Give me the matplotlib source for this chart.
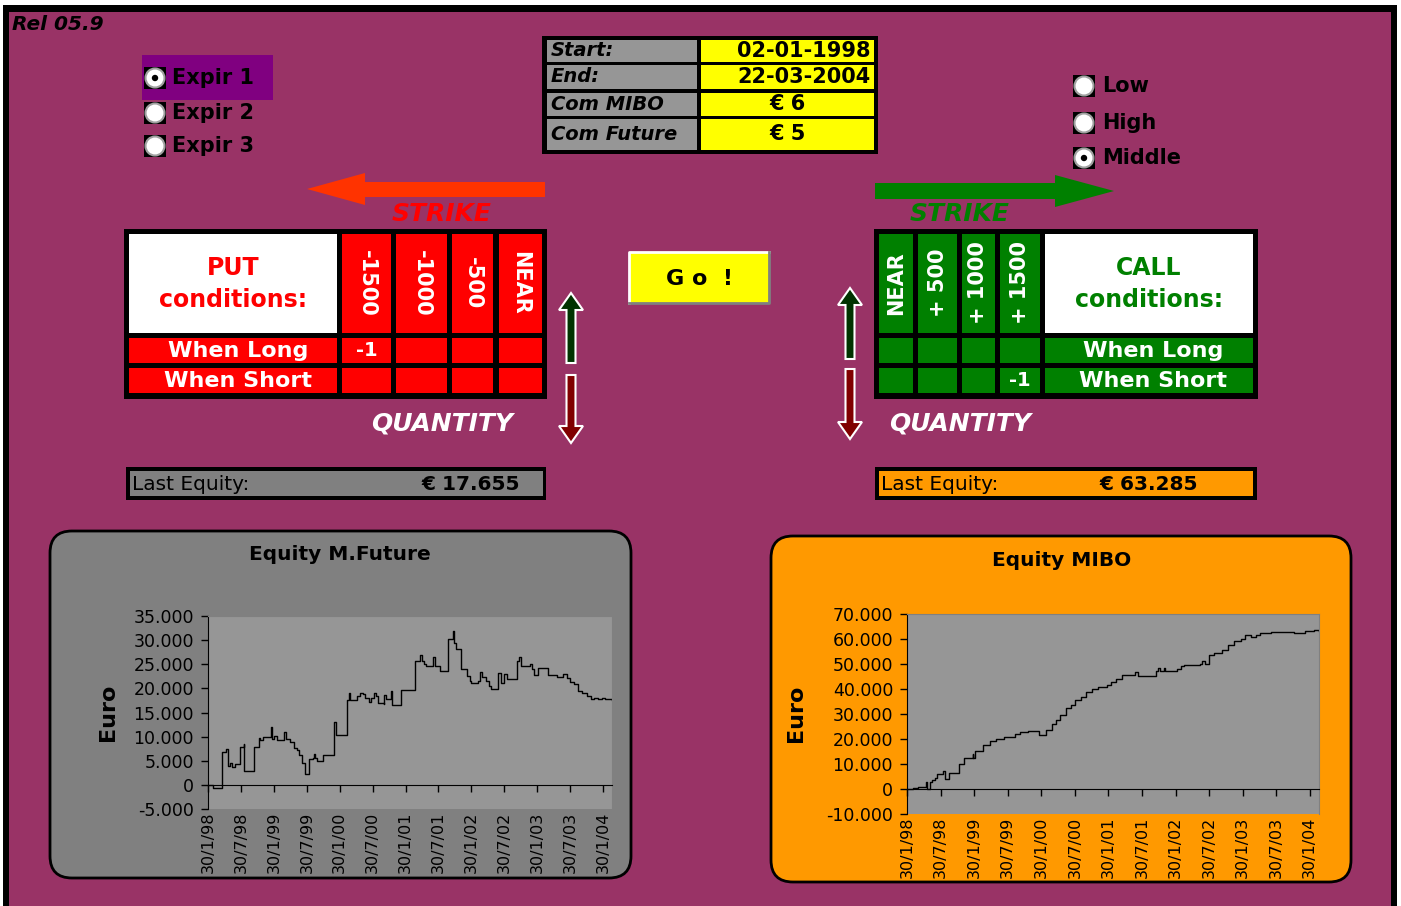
import matplotlib.pyplot as plt
from matplotlib.patches import Rectangle, Polygon, Circle, FancyBboxPatch
from matplotlib.transforms import blended_transform_factory

# equity curves (decimal year, euro)
fut_years = [1998.08, 1998.16, 1998.29, 1998.36, 1998.38, 1998.42, 1998.45, 1998.49, 1998.56, 1998.62,
             1998.63, 1998.78, 1998.85, 1998.87, 1998.92, 1999.03, 1999.06, 1999.08, 1999.13, 1999.23,
             1999.26, 1999.33, 1999.39, 1999.43, 1999.47, 1999.51, 1999.55, 1999.62, 1999.67, 1999.69,
             1999.71, 1999.74, 1999.83, 2000.00, 2000.03, 2000.19, 2000.23, 2000.24, 2000.35, 2000.39,
             2000.43, 2000.47, 2000.52, 2000.56, 2000.60, 2000.64, 2000.67, 2000.75, 2000.76, 2000.79,
             2000.86, 2000.88, 2001.01, 2001.23, 2001.30, 2001.33, 2001.37, 2001.40, 2001.50, 2001.53,
             2001.60, 2001.73, 2001.80, 2001.82, 2001.85, 2001.93, 2002.01, 2002.06, 2002.08, 2002.18,
             2002.21, 2002.24, 2002.30, 2002.35, 2002.38, 2002.48, 2002.53, 2002.58, 2002.63, 2002.77,
             2002.81, 2002.84, 2002.97, 2003.00, 2003.04, 2003.09, 2003.24, 2003.38, 2003.47, 2003.53,
             2003.58, 2003.64, 2003.70, 2003.77, 2003.84, 2003.90, 2003.95, 2004.01, 2004.07, 2004.12,
             2004.22]
fut_equity = [0, -700, 6800, 7500, 4000, 4600, 3700, 4400, 7800, 8500,
              2800, 7800, 9800, 9200, 9900, 11900, 9500, 10200, 9400, 10900,
              9600, 8800, 7700, 7300, 6200, 4500, 2300, 5400, 5500, 6400,
              5500, 5000, 6100, 13000, 10300, 17600, 19000, 17600, 18500, 19000,
              18800, 18100, 17200, 18100, 19000, 18500, 17000, 16700, 18600, 17900,
              19500, 16500, 19700, 25700, 26900, 25700, 25000, 24700, 26400, 24700,
              23600, 30300, 31900, 29400, 28100, 24000, 22600, 21600, 21100, 21600,
              23400, 22300, 21600, 20500, 19800, 23100, 21200, 23000, 21900, 25700,
              26400, 24700, 25000, 24000, 22700, 24300, 22700, 22300, 23000, 22100,
              21400, 20900, 19500, 19000, 18500, 17800, 18100, 17800, 18100, 17700,
              17655]

mibo_years = [1998.08, 1998.17, 1998.25, 1998.35, 1998.36, 1998.38, 1998.42, 1998.46, 1998.50, 1998.52,
              1998.62, 1998.65, 1998.70, 1998.86, 1998.93, 1999.06, 1999.07, 1999.09, 1999.22, 1999.31,
              1999.41, 1999.53, 1999.69, 1999.77, 1999.88, 2000.05, 2000.15, 2000.24, 2000.30, 2000.36,
              2000.45, 2000.53, 2000.59, 2000.67, 2000.75, 2000.84, 2000.92, 2001.06, 2001.12, 2001.20,
              2001.29, 2001.48, 2001.53, 2001.79, 2001.82, 2001.85, 2001.91, 2001.93, 2002.10, 2002.17,
              2002.21, 2002.44, 2002.48, 2002.52, 2002.58, 2002.66, 2002.78, 2002.86, 2002.96, 2003.06,
              2003.11, 2003.20, 2003.28, 2003.34, 2003.51, 2003.84, 2004.01, 2004.15, 2004.22]
mibo_equity = [0, 500, 700, 700, 2700, 0, 2900, 3600, 4500, 5900,
               7200, 3900, 6300, 9900, 12500, 14200, 12300, 15200, 17800, 19200,
               20000, 20900, 22100, 22900, 23300, 21600, 23600, 26200, 27600, 29600,
               32500, 33600, 35600, 36900, 38900, 39900, 40900, 41500, 42900, 44200,
               45500, 46900, 45300, 47100, 48500, 47100, 48500, 47400, 47900, 49300,
               49800, 50200, 51100, 50200, 53800, 54600, 55500, 57500, 59100, 60200,
               61800, 60900, 61500, 62500, 62900, 62600, 63100, 63500, 63285]

date_labels = ['30/1/98', '30/7/98', '30/1/99', '30/7/99', '30/1/00', '30/7/00', '30/1/01',
               '30/7/01', '30/1/02', '30/7/02', '30/1/03', '30/7/03', '30/1/04']
fut_yticks = [-5000, 0, 5000, 10000, 15000, 20000, 25000, 30000, 35000]
mibo_yticks = [-10000, 0, 10000, 20000, 30000, 40000, 50000, 60000, 70000]

settings_labels = ['Start:', 'End:', 'Com MIBO', 'Com Future']
settings_values = ['02-01-1998', '22-03-2004', '€ 6', '€ 5']
expiries = ['Expir 1', 'Expir 2', 'Expir 3']
levels = ['Low', 'High', 'Middle']
put_strikes = ['-1500', '-1000', '-500', 'NEAR']
call_strikes = ['NEAR', '+ 500', '+ 1000', '+ 1500']
put_long = ['-1', '', '', '']
put_short = ['', '', '', '']
call_long = ['', '', '', '']
call_short = ['', '', '', '-1']
last_fut = '€ 17.655'
last_mibo = '€ 63.285'

W, H = 1401, 906
PURPLE = '#993366'

fig = plt.figure(figsize=(W / 100, H / 100), dpi=100, facecolor='white')
ax = fig.add_axes([0, 0, 1, 1])
ax.set_xlim(0, W)
ax.set_ylim(H, 0)
ax.axis('off')


def box(x0, y0, x1, y1, fc, z=1):
    ax.add_patch(Rectangle((x0, y0), x1 - x0, y1 - y0, facecolor=fc, edgecolor='none', zorder=z))


def txt(x, y, s, size, color='black', ha='center', weight='bold', style='normal', rot=0):
    ax.text(x, y, s, fontsize=size, color=color, ha=ha, va='center', fontweight=weight,
            fontstyle=style, rotation=rot, rotation_mode='anchor' if rot == 0 else 'default', zorder=10)


def radio(x, y, on):
    box(x - 11, y - 11, x + 11, y + 11, 'black', z=3)
    ax.add_patch(Circle((x, y), 9.5, facecolor='white', edgecolor='#a0a0a0', lw=1.5, zorder=4))
    if on:
        ax.add_patch(Circle((x, y), 3.2, facecolor='black', zorder=5))


def varrow(cx, tip, end, color):
    d = 1 if end > tip else -1
    hw, sw, hl = 12, 4.5, 17 * d
    pts = [(cx, tip), (cx + hw, tip + hl), (cx + sw, tip + hl), (cx + sw, end),
           (cx - sw, end), (cx - sw, tip + hl), (cx - hw, tip + hl)]
    ax.add_patch(Polygon(pts, closed=True, facecolor=color, edgecolor='white', lw=1.5, zorder=3))


# background and frame
box(4, 5, 1397, H, PURPLE, z=0)
box(4, 5, 1397, 12, 'black')
box(3, 5, 9, H, 'black')
box(1391, 5, 1397, H, 'black')
txt(12, 24, 'Rel 05.9', 14.5, ha='left', style='italic')

# expiry radio group
box(142, 55, 273, 100, '#800080')
for i, (lab, y) in enumerate(zip(expiries, [78, 113, 146])):
    radio(155, y, i == 0)
    txt(172, y, lab, 15, ha='left')

# level radio group
for i, (lab, y) in enumerate(zip(levels, [86, 123, 158])):
    radio(1084, y, i == 2)
    txt(1102, y, lab, 15, ha='left')

# settings table
box(542, 36, 878, 154, 'black')
for lab, val, (y0, y1) in zip(settings_labels, settings_values, [(40, 62), (65, 89), (93, 116), (119, 150)]):
    box(547, y0, 697, y1, '#969696', z=2)
    box(701, y0, 874, y1, '#FFFF00', z=2)
    yc = (y0 + y1) / 2
    txt(551, yc, lab, 14, ha='left', style='italic')
    if val.startswith('€'):
        txt(788, yc, val, 15)
    else:
        txt(871, yc, val, 15, ha='right')

# strike arrows
ax.add_patch(Polygon([(545, 182), (365, 182), (365, 173), (307, 189), (365, 205), (365, 197), (545, 197)],
                     closed=True, facecolor='#FF3300', edgecolor='none', zorder=2))
ax.add_patch(Polygon([(875, 183), (1055, 183), (1055, 175), (1114, 191), (1055, 207), (1055, 199), (875, 199)],
                     closed=True, facecolor='#008000', edgecolor='none', zorder=2))
txt(442, 214, 'STRIKE', 18, color='#FF0000', style='italic')
txt(960, 214, 'STRIKE', 18, color='#008000', style='italic')

# PUT table
box(124, 229, 547, 399, 'black')
box(129, 234, 337, 333, 'white', z=2)
txt(233, 268, 'PUT', 17, color='#FF0000')
txt(233, 300, 'conditions:', 17, color='#FF0000')
put_cols = [(342, 391), (396, 447), (452, 493), (499, 542)]
rows = [(338, 363), (368, 393)]
box(129, rows[0][0], 337, rows[0][1], '#FF0000', z=2)
box(129, rows[1][0], 337, rows[1][1], '#FF0000', z=2)
txt(238, 351, 'When Long', 16, color='white')
txt(238, 381, 'When Short', 16, color='white')
for (x0, x1), s, lg, sh in zip(put_cols, put_strikes, put_long, put_short):
    box(x0, 234, x1, 333, '#FF0000', z=2)
    box(x0, rows[0][0], x1, rows[0][1], '#FF0000', z=2)
    box(x0, rows[1][0], x1, rows[1][1], '#FF0000', z=2)
    xc = (x0 + x1) / 2
    txt(xc, 283, s, 15, color='white', rot=-90)
    txt(xc, 351, lg, 14, color='white')
    txt(xc, 381, sh, 14, color='white')

# CALL table
box(874, 229, 1258, 399, 'black')
box(1045, 234, 1253, 333, 'white', z=2)
txt(1149, 268, 'CALL', 17, color='#008000')
txt(1149, 300, 'conditions:', 17, color='#008000')
call_cols = [(879, 913), (918, 957), (962, 995), (1000, 1040)]
box(1045, rows[0][0], 1253, rows[0][1], '#008000', z=2)
box(1045, rows[1][0], 1253, rows[1][1], '#008000', z=2)
txt(1153, 351, 'When Long', 16, color='white')
txt(1153, 381, 'When Short', 16, color='white')
for (x0, x1), s, lg, sh in zip(call_cols, call_strikes, call_long, call_short):
    box(x0, 234, x1, 333, '#008000', z=2)
    box(x0, rows[0][0], x1, rows[0][1], '#008000', z=2)
    box(x0, rows[1][0], x1, rows[1][1], '#008000', z=2)
    xc = (x0 + x1) / 2
    txt(xc, 283, s, 15, color='white', rot=90)
    txt(xc, 351, lg, 14, color='white')
    txt(xc, 381, sh, 14, color='white')

# quantity arrows
varrow(571, 293, 363, '#003300')
varrow(571, 443, 375, '#800000')
varrow(850, 288, 359, '#003300')
varrow(850, 439, 369, '#800000')
txt(442, 423, 'QUANTITY', 18, color='white', style='italic')
txt(960, 423, 'QUANTITY', 18, color='white', style='italic')

# Go button
box(629, 252, 769, 303, '#FFFF00', z=2)
ax.plot([629, 629, 769], [303, 252, 252], color='white', lw=2, zorder=3)
ax.plot([629, 769, 769], [303, 303, 252], color='#808080', lw=2, zorder=3)
txt(699, 279, 'G o  !', 16)

# last equity boxes
box(126, 467, 546, 500, 'black')
box(130, 471, 543, 496, '#808080', z=2)
txt(132, 485, 'Last Equity:', 14.5, ha='left', weight='normal')
txt(520, 485, last_fut, 14.5, ha='right')
box(875, 467, 1257, 500, 'black')
box(879, 471, 1253, 496, '#FF9900', z=2)
txt(881, 485, 'Last Equity:', 14.5, ha='left', weight='normal')
txt(1198, 485, last_mibo, 14.5, ha='right')

# chart panels
ax.add_patch(FancyBboxPatch((50, 531), 581, 347, boxstyle='round,pad=0,rounding_size=22',
                            facecolor='#808080', edgecolor='black', lw=2, zorder=1))
ax.add_patch(FancyBboxPatch((771, 536), 580, 346, boxstyle='round,pad=0,rounding_size=22',
                            facecolor='#FF9900', edgecolor='black', lw=2, zorder=1))
txt(340, 555, 'Equity M.Future', 14.5)
txt(1062, 560, 'Equity MIBO', 14.5)
txt(108, 712, 'Euro', 16, rot=90)
txt(796, 713, 'Euro', 16, rot=90)


def tick_pos(lab):
    d, m, y = lab.split('/')
    return 2000 + int(y) - (100 if int(y) > 50 else 0) + (int(m) - 1) / 12 + int(d) / 365


date_ticks = [tick_pos(s) for s in date_labels]


def equity_chart(px, years, equity, yticks):
    x0, y0, x1, y1 = px
    a = fig.add_axes([x0 / W, 1 - y1 / H, (x1 - x0) / W, (y1 - y0) / H])
    a.set_facecolor('#969696')
    a.step(years, equity, where='post', color='black', lw=1)
    a.set_xlim(1998.08, 2004.22)
    a.set_ylim(yticks[0], yticks[-1])
    a.set_yticks(yticks)
    a.set_yticklabels([f'{v:,}'.replace(',', '.') for v in yticks], fontsize=12.5)
    a.set_xticks(date_ticks)
    a.set_xticklabels([])
    a.spines['bottom'].set_position(('data', 0))
    for s in ['top', 'right']:
        a.spines[s].set_color('#808080')
    a.tick_params(direction='out', length=5, width=1, pad=5)
    tr = blended_transform_factory(a.transData, a.transAxes)
    for x, lab in zip(date_ticks, date_labels):
        a.text(x, -0.015, lab, transform=tr, rotation=90, ha='center', va='top', fontsize=11.5)
    return a


equity_chart((208, 616, 612, 809), fut_years, fut_equity, fut_yticks)
equity_chart((907, 614, 1319, 814), mibo_years, mibo_equity, mibo_yticks)

fig.savefig('out.png', dpi=100, facecolor='white')
